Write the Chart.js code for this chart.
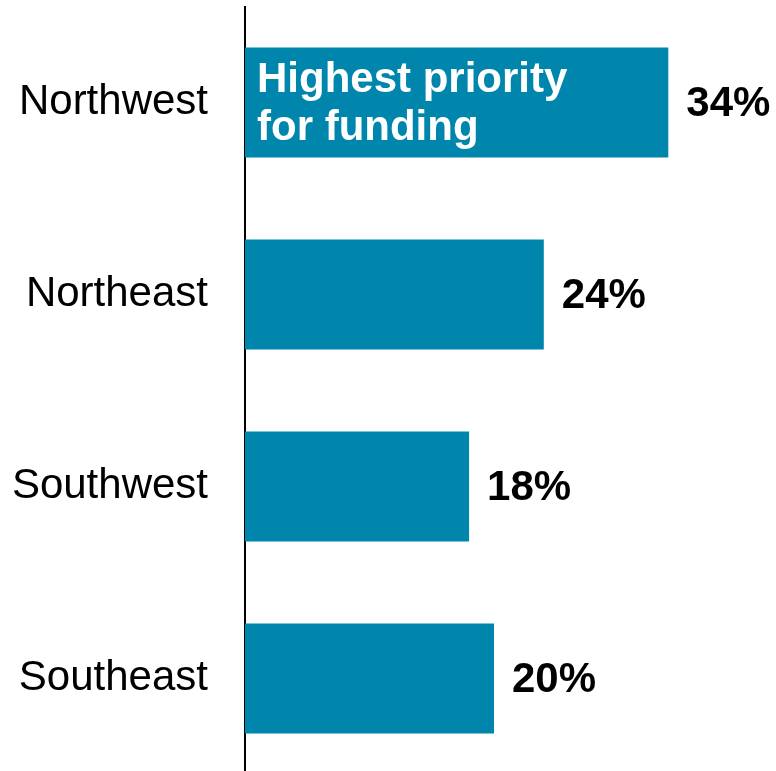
<!DOCTYPE html>
<html>
<head>
<meta charset="utf-8">
<script src="https://cdn.jsdelivr.net/npm/chart.js@4/dist/chart.umd.min.js"></script>
<style>
  html, body { margin: 0; padding: 0; background: #fff; overflow: hidden; }
  canvas { display: block; }
</style>
</head>
<body>
<canvas id="c" width="776" height="780" style="width:776px;height:780px"></canvas>
<script>
const categories = ["Northwest", "Northeast", "Southwest", "Southeast"];
const values = [34, 24, 18, 20];
const valueLabels = ["34%", "24%", "18%", "20%"];
const calloutLines = ["Highest priority", "for funding"];

const FONT = "'Liberation Sans', Arial, Helvetica, sans-serif";
const BAR_COLOR = "#0086ad";

const labelPlugin = {
  id: "labels",
  afterDatasetsDraw(chart) {
    const ctx = chart.ctx;
    const meta = chart.getDatasetMeta(0);
    ctx.save();
    meta.data.forEach((bar, i) => {
      ctx.font = "bold 42px " + FONT;
      ctx.fillStyle = "#000";
      ctx.textAlign = "left";
      ctx.textBaseline = "middle";
      ctx.fillText(valueLabels[i], bar.x + 18, bar.y + 2);
    });
    const first = meta.data[0];
    ctx.font = "bold 42px " + FONT;
    ctx.fillStyle = "#fff";
    ctx.textAlign = "left";
    ctx.textBaseline = "alphabetic";
    calloutLines.forEach((line, k) => {
      ctx.fillText(line, first.base + 12, first.y - 10.5 + k * 48);
    });
    ctx.restore();
  }
};

new Chart(document.getElementById("c"), {
  type: "bar",
  data: {
    labels: categories,
    datasets: [{
      data: values,
      backgroundColor: BAR_COLOR,
      borderWidth: 0,
      categoryPercentage: 1,
      barPercentage: 0.573
    }]
  },
  options: {
    indexAxis: "y",
    responsive: false,
    maintainAspectRatio: false,
    animation: false,
    devicePixelRatio: 1,
    layout: { padding: { top: 6.5, bottom: 5.5, left: 0, right: 33 } },
    plugins: {
      legend: { display: false },
      tooltip: { enabled: false }
    },
    scales: {
      x: {
        display: false,
        min: 0,
        max: 40
      },
      y: {
        grid: { display: false, drawTicks: false },
        border: { display: true, color: "#000", width: 2 },
        ticks: {
          color: "#000",
          padding: 37,
          font: { family: FONT, size: 42 }
        },
        afterFit(scale) {
          scale.width = 245;
          scale.paddingTop = 0;
          scale.paddingBottom = 0;
          scale.paddingLeft = 0;
          scale.paddingRight = 0;
        }
      }
    }
  },
  plugins: [labelPlugin]
});
</script>
</body>
</html>
